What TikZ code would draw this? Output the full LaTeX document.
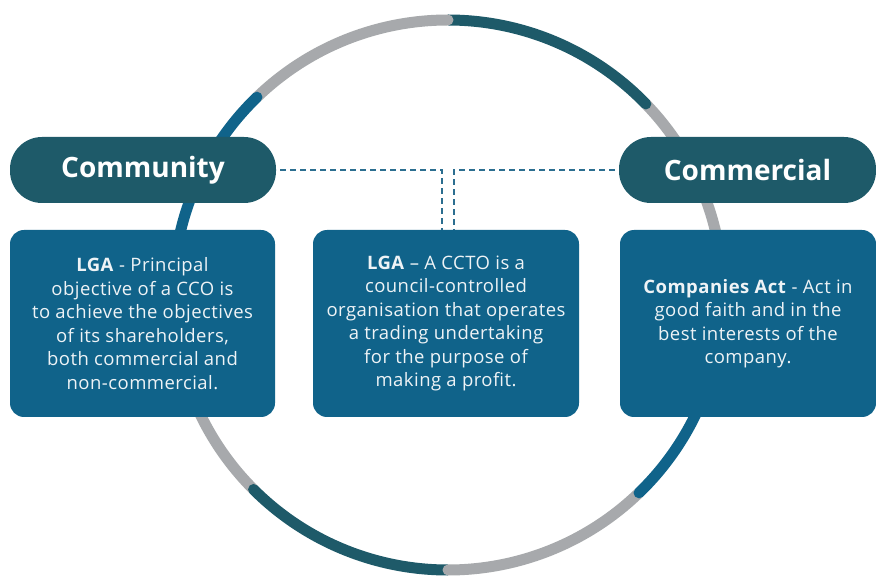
\documentclass[tikz,border=0pt]{standalone}
\usepackage{fontspec}
\setmainfont{Open Sans}
\newfontfamily\cardfont[LetterSpace=2.5]{Open Sans}
\definecolor{ringteal}{HTML}{1E5A69}
\definecolor{boxblue}{HTML}{10638A}
\definecolor{ringgrey}{HTML}{A7A9AC}
\definecolor{dashblue}{HTML}{2C6E90}
\definecolor{cardtext}{HTML}{EEF3F6}
\begin{document}
\begin{tikzpicture}[x=1pt,y=1pt,
 ring/.style={line width=11pt,line cap=round,preaction={draw=white,line width=14pt}},
 pill/.style={fill=ringteal,rounded corners=32pt,minimum width=266pt,minimum height=66pt,
  text=white,font=\fontsize{28}{30}\selectfont\bfseries},
 card/.style={fill=boxblue,rounded corners=14pt,minimum height=187pt,text=cardtext,
  align=center,font=\cardfont\fontsize{18.5}{23.5}\selectfont},
 link/.style={dashblue,line width=1.5pt,dash pattern=on 6pt off 4pt}]
 \useasboundingbox (0,0) rectangle (876,579);
 \coordinate (o) at (448,284);
 % ring, drawn in stacking order
 \draw[ring,ringgrey] ([shift={(-15:275)}]o) arc[start angle=-15,end angle=44,radius=275];
 \draw[ring,ringteal] ([shift={(44:275)}]o) arc[start angle=44,end angle=90,radius=275];
 \draw[ring,ringgrey] ([shift={(90:275)}]o) arc[start angle=90,end angle=134,radius=275];
 \draw[ring,boxblue] ([shift={(134:275)}]o) arc[start angle=134,end angle=195,radius=275];
 \draw[ring,ringgrey] ([shift={(195:275)}]o) arc[start angle=195,end angle=225,radius=275];
 \draw[ring,ringteal] ([shift={(225:275)}]o) arc[start angle=225,end angle=270,radius=275];
 \draw[ring,ringgrey] ([shift={(270:275)}]o) arc[start angle=270,end angle=314,radius=275];
 \draw[ring,boxblue] ([shift={(314:275)}]o) arc[start angle=314,end angle=345,radius=275];
 % headings
 \node[pill] (community) at (143,409) {Community};
 \node[pill,minimum width=257pt] (commercial) at (747.5,409) {Commercial};
 % cards
 \node[card,minimum width=265pt] (lgacco) at (142.5,255.5)
  {\textbf{LGA} - Principal\\objective of a CCO is\\to achieve the objectives\\of its shareholders,\\both commercial and\\non-commercial.};
 \node[card,minimum width=266pt] (lgaccto) at (446,255.5)
  {\textbf{LGA} \textendash{} A CCTO is a\\council-controlled\\organisation that operates\\a trading undertaking\\for the purpose of\\making a profit.};
 \node[card,minimum width=256pt] (companiesact) at (748,255.5)
  {\textbf{Companies Act} - Act in\\good faith and in the\\best interests of the\\company.};
 % links
 \draw[link,shorten <=4pt] (community.east) -| ([xshift=-4pt]lgaccto.north);
 \draw[link,shorten <=4pt] (commercial.west) -| ([xshift=8pt]lgaccto.north);
\end{tikzpicture}
\end{document}
